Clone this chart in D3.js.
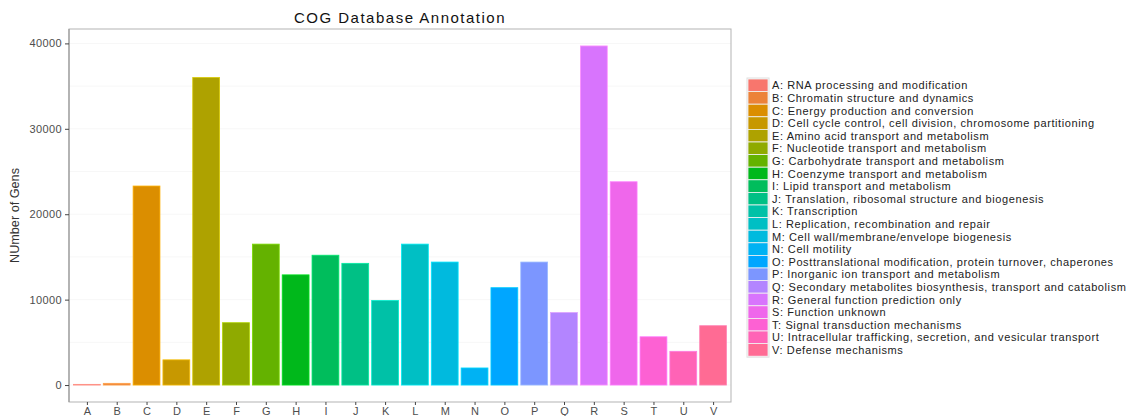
<!DOCTYPE html>
<html><head><meta charset="utf-8">
<script src="https://cdn.jsdelivr.net/npm/d3@7"></script>
<style>body{margin:0;background:#fff}svg{display:block}text{font-family:"Liberation Sans",Arial,sans-serif}</style>
</head><body>
<svg id="c" width="1132" height="416"></svg>
<script>
const categories = ["A","B","C","D","E","F","G","H","I","J","K","L","M","N","O","P","Q","R","S","T","U","V"];
const descriptions = [
 "A: RNA processing and modification",
 "B: Chromatin structure and dynamics",
 "C: Energy production and conversion",
 "D: Cell cycle control, cell division, chromosome partitioning",
 "E: Amino acid transport and metabolism",
 "F: Nucleotide transport and metabolism",
 "G: Carbohydrate transport and metabolism",
 "H: Coenzyme transport and metabolism",
 "I: Lipid transport and metabolism",
 "J: Translation, ribosomal structure and biogenesis",
 "K: Transcription",
 "L: Replication, recombination and repair",
 "M: Cell wall/membrane/envelope biogenesis",
 "N: Cell motility",
 "O: Posttranslational modification, protein turnover, chaperones",
 "P: Inorganic ion transport and metabolism",
 "Q: Secondary metabolites biosynthesis, transport and catabolism",
 "R: General function prediction only",
 "S: Function unknown",
 "T: Signal transduction mechanisms",
 "U: Intracellular trafficking, secretion, and vesicular transport",
 "V: Defense mechanisms"];
const values = [80,200,23300,2950,36000,7300,16500,12900,15200,14250,9900,16500,14400,2000,11400,14400,8500,39700,23800,5650,3950,6950];
const yTicks = [0,10000,20000,30000,40000];

// ggplot-like hue palette (polar Luv, l=65, c=100)
function hclLuv(h,c,l){
  const Xn=95.047,Yn=100,Zn=108.883;
  const hr=h*Math.PI/180, U=c*Math.cos(hr), V=c*Math.sin(hr);
  const Y = l>8 ? Yn*Math.pow((l+16)/116,3) : Yn*l/903.3;
  const den=Xn+15*Yn+3*Zn, un=4*Xn/den, vn=9*Yn/den;
  const u=U/(13*l)+un, v=V/(13*l)+vn;
  const X=9*Y*u/(4*v), Z=-X/3-5*Y+3*Y/v;
  const x=X/100,y=Y/100,z=Z/100;
  let r= 3.240479*x-1.537150*y-0.498535*z;
  let g=-0.969256*x+1.875992*y+0.041556*z;
  let b= 0.055648*x-0.204043*y+1.057311*z;
  const gam=t=>{t=t>0.0031308?1.055*Math.pow(t,1/2.4)-0.055:12.92*t;return Math.max(0,Math.min(255,Math.round(t*255)));};
  return d3.rgb(gam(r),gam(g),gam(b)).formatHex();
}
const n=categories.length;
const colors = categories.map((d,i)=>hclLuv(15+360*i/n,100,65));

const svg=d3.select("#c");
const P={l:69,r:731,t:29,b:402};
const maxV=d3.max(values);
// discrete scale with ggplot expansion (0.6 units each side)
const unit=(P.r-P.l)/(n-1+1.2);
const xs=d3.scalePoint().domain(categories).range([P.l+unit*0.6,P.r-unit*0.6]);
const bw=unit*0.9;
const y=d3.scaleLinear().domain([-maxV*0.05,maxV*1.05]).range([P.b,P.t]);

// panel
svg.append("rect").attr("x",P.l).attr("y",P.t).attr("width",P.r-P.l).attr("height",P.b-P.t).attr("fill","#fff");
// grid
const minor=[5000,15000,25000,35000];
svg.append("g").selectAll("line").data(minor.concat(yTicks)).join("line")
 .attr("x1",P.l).attr("x2",P.r).attr("y1",d=>y(d)).attr("y2",d=>y(d)).attr("stroke","#f7f7f7").attr("stroke-width",1);

// bars
svg.append("g").selectAll("rect").data(values).join("rect")
 .attr("x",(d,i)=>xs(categories[i])-bw/2).attr("width",bw)
 .attr("y",d=>y(d)).attr("height",d=>y(0)-y(d))
 .attr("fill",(d,i)=>colors[i]).attr("stroke",(d,i)=>d3.color(colors[i]).brighter(0.6)).attr("stroke-width",0.8);

// border
svg.append("rect").attr("x",P.l).attr("y",P.t).attr("width",P.r-P.l).attr("height",P.b-P.t).attr("fill","none").attr("stroke","#b3b3b3").attr("stroke-width",1);
svg.append("line").attr("x1",P.l).attr("x2",P.l).attr("y1",P.t).attr("y2",P.b).attr("stroke","#9a9a9a").attr("stroke-width",1.2);

// y axis
const yAxis=d3.axisLeft(y).tickValues(yTicks).tickSize(4).tickPadding(3).tickFormat(d3.format("d"));
const ga=svg.append("g").attr("transform",`translate(${P.l},0)`).call(yAxis);
ga.select(".domain").remove();
ga.selectAll(".tick line").attr("stroke","#444");
ga.selectAll("text").attr("fill","#4d4d4d").attr("font-size",11).style("font-family","Liberation Sans, Arial").style("letter-spacing","0.4px");

// x axis
const gx=svg.append("g").attr("transform",`translate(0,${P.b})`).call(d3.axisBottom(xs).tickSize(3).tickPadding(2));
gx.select(".domain").remove();
gx.selectAll(".tick line").attr("stroke","#444");
gx.selectAll("text").attr("fill","#4d4d4d").attr("font-size",11).style("font-family","Liberation Sans, Arial");

// title
svg.append("text").attr("x",(P.l+P.r)/2).attr("y",23).attr("text-anchor","middle").attr("font-size",15).attr("fill","#111").style("letter-spacing","1.5px").text("COG Database Annotation");
// y label
svg.append("text").attr("transform","translate(19,"+((P.t+P.b)/2)+") rotate(-90)").attr("text-anchor","middle").attr("font-size",13).attr("fill","#333").attr("textLength",95).attr("lengthAdjust","spacingAndGlyphs").text("NUmber of Gens");

// legend
const LX=748,LY=79,kh=12.6,kw=20;
const lg=svg.append("g");
lg.append("rect").attr("x",LX-1).attr("y",LY-1).attr("width",kw+2).attr("height",kh*n+2).attr("fill","#f2f2f2").attr("stroke","#e0e0e0");
lg.selectAll("rect.k").data(categories).join("rect").attr("class","k")
 .attr("x",LX).attr("y",(d,i)=>LY+i*kh).attr("width",kw).attr("height",kh).attr("fill",(d,i)=>colors[i]).attr("stroke","#f2f2f2").attr("stroke-width",0.8);
lg.selectAll("text").data(descriptions).join("text")
 .attr("x",LX+kw+4).attr("y",(d,i)=>LY+i*kh+kh/2+4).attr("font-size",11).attr("fill","#222").style("letter-spacing","0.6px").text(d=>d);
</script>
</body></html>
